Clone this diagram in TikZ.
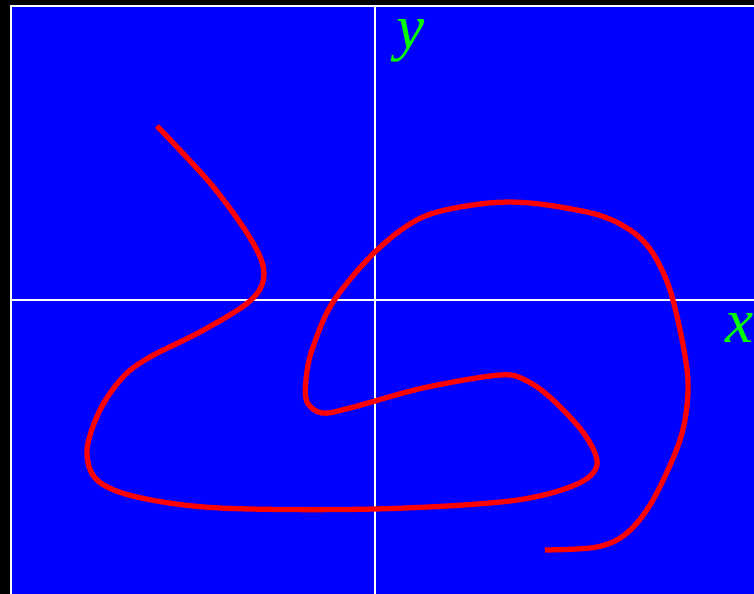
\documentclass[tikz,border=0pt]{standalone}
\usepackage{fontspec}
\setmainfont{Liberation Serif}
\definecolor{labelgreen}{RGB}{0,255,0}

\begin{document}
\begin{tikzpicture}[x=0.02cm, y=-0.02cm,
    axis/.style={white, line width=1.1pt},
    curve/.style={red, line width=3pt, line join=round},
    axislabel/.style={labelgreen, font=\fontsize{36}{40}\selectfont\itshape, inner sep=0pt}]
    \fill[black] (0,0) rectangle (754,594);
    \useasboundingbox (0,0) rectangle (754,594);
    \fill[blue] (11,6) rectangle (754,594);
    \draw[axis] (11,594) -- (11,6) -- (754,6);

    % axes
    \draw[axis] (375,6) -- (375,594);
    \draw[axis] (11,300) -- (754,300);
    \node[axislabel, anchor=base west] (ylabel) at (396,49) {y};
    \node[axislabel, anchor=base west] (xlabel) at (725,343) {x};

    % the curve
    \draw[curve] plot[smooth, tension=0.55] coordinates {
        (157,126) (210,183) (245,230) (262,262) (262,285) (245,305)
        (200,332) (150,357) (123,377) (100,410) (87,450) (97,480)
        (137,497) (220,508) (375,509) (510,501) (575,485) (597,465)
        (585,435) (553,400) (527,381) (500,375) (423,388) (350,408)
        (322,413) (307,402) (306,380) (312,350) (333,302) (377,250)
        (423,217) (480,204) (530,203) (595,214) (630,230) (652,252)
        (670,290) (684,350) (688,392) (680,440) (653,500) (627,533)
        (597,547) (545,550)};
\end{tikzpicture}
\end{document}
